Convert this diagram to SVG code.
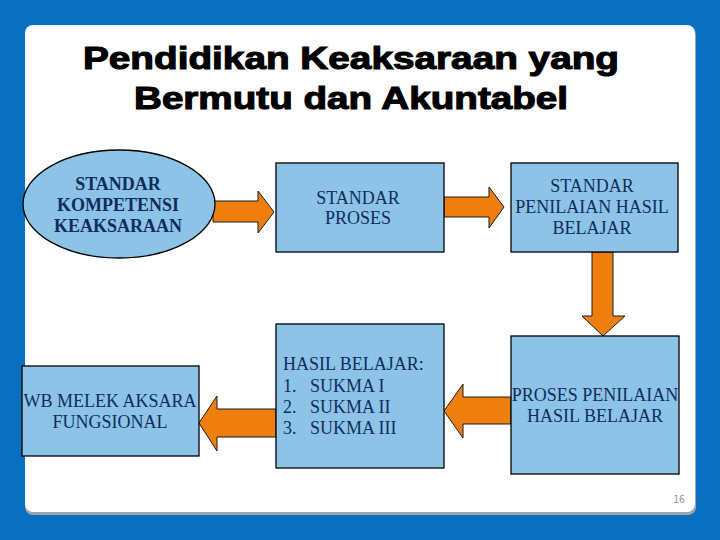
<svg xmlns="http://www.w3.org/2000/svg" width="720" height="540" viewBox="0 0 720 540">
  <defs>
    <style>
      .box { fill: #8DC3E6; stroke: #000; stroke-width: 1.3; }
      .arrow { fill: #EE7F0E; stroke: #1a1a1a; stroke-width: 1; stroke-linejoin: miter; }
      .t { font-family: "Liberation Serif", "Times New Roman", serif; font-size: 18px; fill: #0E2D5F; }
      .c { text-anchor: middle; }
      .b { font-weight: bold; }
      .title { font-family: "Liberation Sans", Arial, sans-serif; font-weight: bold; font-size: 31px; fill: #000; stroke: #000; stroke-width: 1.1; text-anchor: middle; }
    </style>
  </defs>
  <rect x="0" y="0" width="720" height="540" fill="#0A6FBF"/>
  <rect x="25" y="27" width="671" height="488" rx="8" fill="#9aa6b0"/>
  <rect x="25" y="25" width="670" height="487" rx="8" fill="#FFFFFF"/>

  <g id="title">
    <text class="title" x="351" y="69" textLength="536" lengthAdjust="spacingAndGlyphs">Pendidikan Keaksaraan yang</text>
    <text class="title" x="351" y="109" textLength="434" lengthAdjust="spacingAndGlyphs">Bermutu dan Akuntabel</text>
  </g>

  <g id="connectors">
    <polygon class="arrow" points="213,201 258,201 258,191 274,212 258,233 258,222 213,222"/>
    <polygon class="arrow" points="444,197 489,197 489,187 504,207 489,228 489,217 444,217"/>
    <polygon class="arrow" points="592,252 613,252 613,316 625,316 603,336 582,316 592,316"/>
    <polygon class="arrow" points="511,397 463,397 463,384 444,411 463,438 463,424 511,424"/>
    <polygon class="arrow" points="276,409 217,409 217,396 199,423 217,451 217,437 276,437"/>
  </g>

  <g id="node-kompetensi">
    <ellipse class="box" cx="119" cy="204" rx="96" ry="54"/>
    <text class="t c b" x="118" y="190">STANDAR</text>
    <text class="t c b" x="118" y="211">KOMPETENSI</text>
    <text class="t c b" x="118" y="232">KEAKSARAAN</text>
  </g>

  <g id="node-proses">
    <rect class="box" x="276" y="163" width="168" height="89"/>
    <text class="t c" x="358" y="204">STANDAR</text>
    <text class="t c" x="358" y="224">PROSES</text>
  </g>

  <g id="node-penilaian">
    <rect class="box" x="511" y="163" width="167" height="89"/>
    <text class="t c" x="592" y="192">STANDAR</text>
    <text class="t c" x="592" y="213">PENILAIAN HASIL</text>
    <text class="t c" x="592" y="234">BELAJAR</text>
  </g>

  <g id="node-proses-penilaian">
    <rect class="box" x="511" y="336" width="168" height="138"/>
    <text class="t c" x="595" y="401">PROSES PENILAIAN</text>
    <text class="t c" x="595" y="422">HASIL BELAJAR</text>
  </g>

  <g id="node-hasil">
    <rect class="box" x="276" y="324" width="168" height="144"/>
    <text class="t" x="283" y="370">HASIL BELAJAR:</text>
    <text class="t" x="283" y="392">1.</text>
    <text class="t" x="310" y="392">SUKMA I</text>
    <text class="t" x="283" y="413">2.</text>
    <text class="t" x="310" y="413">SUKMA II</text>
    <text class="t" x="283" y="434">3.</text>
    <text class="t" x="310" y="434">SUKMA III</text>
  </g>

  <g id="node-wb">
    <rect class="box" x="22" y="366" width="177" height="90"/>
    <text class="t c" x="110" y="407">WB MELEK AKSARA</text>
    <text class="t c" x="110" y="428">FUNGSIONAL</text>
  </g>

  <text x="679" y="503" font-family="DejaVu Sans Mono, Liberation Mono, monospace" font-size="10" fill="#9a9a9a" text-anchor="middle">16</text>
</svg>
